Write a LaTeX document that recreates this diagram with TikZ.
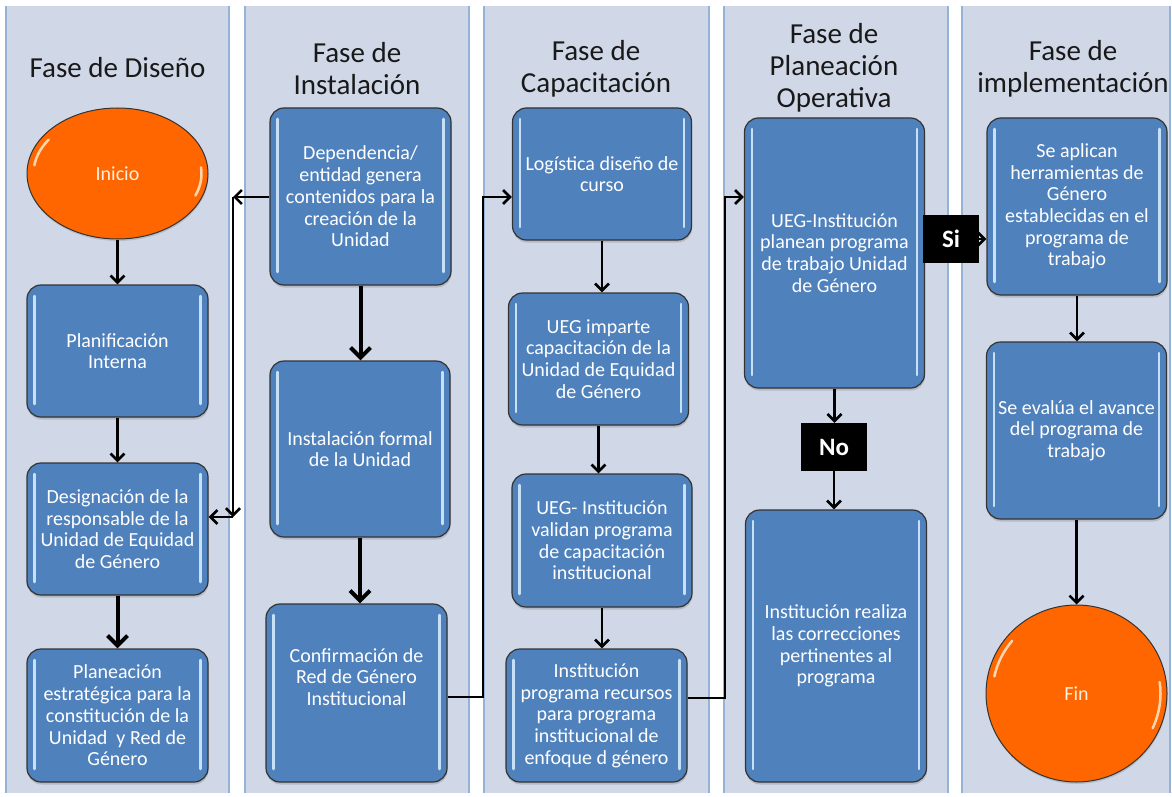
\documentclass[tikz,border=0pt]{standalone}
\usepackage{fontspec}
\setmainfont{Carlito}
\usetikzlibrary{arrows.meta,shapes.geometric,calc,shadows}
\definecolor{lanefill}{HTML}{D0D8E8}
\definecolor{laneline}{HTML}{95B3D7}
\definecolor{boxblue}{HTML}{4F81BD}
\definecolor{hlblue}{HTML}{C8E0F6}
\definecolor{orangefill}{HTML}{FF6600}
\definecolor{hlorange}{HTML}{FFD6AE}
\newcommand\boxfont{\fontsize{20}{21.7}\selectfont}
\newcommand\hdrfont{\fontsize{29}{32}\selectfont}
\newcommand\lblfont{\fontsize{25}{28}\selectfont\bfseries}
\tikzset{
  lane/.style={fill=lanefill, draw=none},
  laneedge/.style={draw=laneline, line width=2pt},
  proc/.style={rounded corners=14pt, fill=boxblue, draw=black!80, line width=1.2pt,
    text=white, align=center, inner sep=0pt, font=\boxfont,
    drop shadow={shadow xshift=0.5pt, shadow yshift=-2.5pt, opacity=0.35},
    path picture={
      \draw[hl] ([xshift=7.5pt,yshift=-11pt]path picture bounding box.north west) -- ([xshift=7.5pt,yshift=13pt]path picture bounding box.south west);
      \draw[hl] ([xshift=-7.5pt,yshift=-11pt]path picture bounding box.north east) -- ([xshift=-7.5pt,yshift=13pt]path picture bounding box.south east);
    }},
  boxtext/.style={text=white, align=center, font=\boxfont, inner sep=0pt},
  term/.style={ellipse, fill=orangefill, draw=black!80, line width=1pt,
    text=white!88!orange, inner sep=0pt, font=\boxfont,
    drop shadow={shadow xshift=0.5pt, shadow yshift=-2pt, opacity=0.3}},
  lbl/.style={fill=black, text=white, font=\lblfont, inner sep=0pt},
  hdr/.style={align=center, font=\hdrfont, text=black!90},
  arr/.style={line width=2.6pt, -{Straight Barb[length=7pt,width=14pt]}},
  arrthick/.style={line width=4pt, -{Straight Barb[length=10pt,width=20pt]}},
  hl/.style={draw=hlblue, line width=2.5pt, line cap=round},
  hlo/.style={draw=hlorange, line width=2.5pt, line cap=round},
}
\begin{document}
\begin{tikzpicture}[x=1pt,y=-1pt]
\useasboundingbox (0,0) rectangle (1172,797);
\fill[white] (0,0) rectangle (1172,797);
% lanes
\foreach \a/\b in {6/229,245/469,484/709,724/948,962/1170}{
  \fill[lane] (\a,6) rectangle (\b,793);
  \draw[laneedge] (\a,6) -- (\a,793);
  \draw[laneedge] (\b,6) -- (\b,793);
}
% headers
\node[hdr] (h1) at (117.5,68) {Fase de Diseño};
\node[hdr] (h2) at (357,69) {Fase de\\Instalación};
\node[hdr] (h3) at (596,69) {Fase de\\Capacitación};
\node[hdr] (h4) at (834,68) {Fase de\\Planeación\\Operativa};
\node[hdr] (h5) at (1073,69) {Fase de\\implementación};
% lane 1
\node[term, minimum width=181, minimum height=131] (ini) at (117.5,173.5) {Inicio};
\node[proc, minimum width=181, minimum height=132] (pla) at (117.5,351) {Planificación\\Interna};
\node[proc, minimum width=181, minimum height=132] (dis) at (117.5,529) {Designación de la\\responsable de la\\Unidad de Equidad\\de Género};
\node[proc, minimum width=181, minimum height=133] (pes) at (117.5,715.5) {Planeación\\estratégica para la\\constitución de la\\Unidad\ \ y Red de\\Género};
% lane 2
\node[proc, minimum width=181, minimum height=177] (dep) at (360.5,196.5) {Dependencia/\\entidad genera\\contenidos para la\\creación de la\\Unidad};
\node[proc, minimum width=180, minimum height=176] (ins) at (360,449) {Instalación formal\\de la Unidad};
\node[proc, minimum width=181, minimum height=178] (conf) at (356.5,693) {};
\node[boxtext] (conft) at (356.5,677) {Confirmación de\\Red de Género\\Institucional};
% lane 3
\node[proc, minimum width=179, minimum height=132] (log) at (602,174) {Logística diseño de\\curso};
\node[proc, minimum width=180, minimum height=132] (imp) at (598.5,359) {UEG imparte\\capacitación de la\\Unidad de Equidad\\de Género};
\node[proc, minimum width=180, minimum height=133] (val) at (602,540.5) {UEG- Institución\\validan programa\\de capacitación\\institucional};
\node[proc, minimum width=181, minimum height=133] (rec) at (596.5,715.5) {Institución\\programa recursos\\para programa\\institucional de\\enfoque d género};
% lane 4
\node[proc, minimum width=180, minimum height=270] (plan) at (834.5,253) {UEG-Institución\\planean programa\\de trabajo Unidad\\de Género};
\node[proc, minimum width=181, minimum height=272] (rea) at (836,646) {Institución realiza\\las correcciones\\pertinentes al\\programa};
% lane 5
\node[proc, minimum width=180, minimum height=177] (apl) at (1077,206.5) {Se aplican\\herramientas de\\Género\\establecidas en el\\programa de\\trabajo};
\node[proc, minimum width=180, minimum height=177] (eva) at (1076.5,430.5) {Se evalúa el avance\\del programa de\\trabajo};
\node[term, minimum width=181, minimum height=177] (fin) at (1076.5,693.5) {Fin};
% ellipse highlights
\draw[hlo] ($(ini.center)+(145:84pt and 59pt)$) arc[start angle=145, end angle=172, x radius=84pt, y radius=59pt];
\draw[hlo] ($(ini.center)+(-22:84pt and 59pt)$) arc[start angle=-22, end angle=6, x radius=84pt, y radius=59pt];
\draw[hlo] ($(fin.center)+(140:84pt and 82pt)$) arc[start angle=140, end angle=168, x radius=84pt, y radius=82pt];
\draw[hlo] ($(fin.center)+(-25:84pt and 82pt)$) arc[start angle=-25, end angle=8, x radius=84pt, y radius=82pt];
% coordinates for bends
\coordinate (c1) at (233,197);
\coordinate (c2) at (233,517);
\coordinate (c3) at (483,697);
\coordinate (c4) at (483,197);
\coordinate (c5) at (725,698);
\coordinate (c6) at (725,197);
% connectors
\draw[arr] (ini.south) -- (ini.south |- pla.north);
\draw[arr] (pla.south) -- (dis.north);
\draw[arrthick] (dis.south) -- (pes.north);
\draw[arr] (dep.west |- c1) -- (c1);
\draw[arr] (c1) -- (c2);
\draw[arr] (c2) -- (c2 -| dis.east);
\draw[arrthick] (dep.south) -- (dep.south |- ins.north);
\draw[arrthick] (ins.south) -- (ins.south |- conf.north);
\draw[arr] (c3 -| conf.east) -- (c3) -- (c4) -- (c4 -| log.west);
\draw[arr] (log.south) -- (log.south |- imp.north);
\draw[arr] (imp.south) -- (imp.south |- val.north);
\draw[arr] (val.south) -- (val.south |- rec.north);
\draw[arr] (c5 -| rec.east) -- (c5) -- (c6) -- (c6 -| plan.west);
\node[lbl, minimum width=56, minimum height=48] (si) at (951,239) {Si};
\node[lbl, minimum width=66, minimum height=48] (no) at (834,447) {No};
\draw[arr] (si.east) -- (si.east -| apl.west);
\draw[arr] (plan.south) -- (plan.south |- no.north);
\draw[arr] (no.south) -- (no.south |- rea.north);
\draw[arr] (apl.south) -- (apl.south |- eva.north);
\draw[arr] (eva.south) -- (eva.south |- fin.north);
\end{tikzpicture}
\end{document}
